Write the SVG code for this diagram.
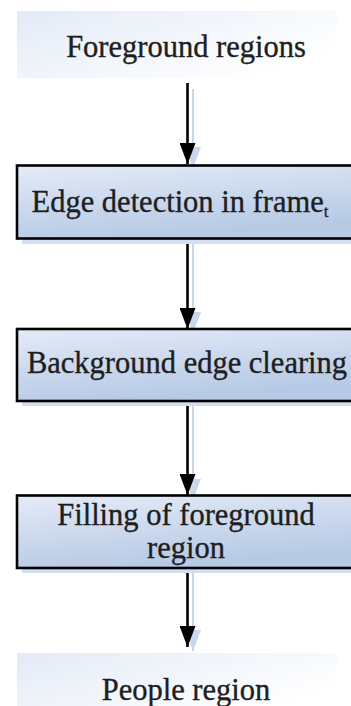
<svg xmlns="http://www.w3.org/2000/svg" width="351" height="706" viewBox="0 0 351 706">
  <defs>
    <linearGradient id="boxFill" x1="0" y1="0" x2="0.35" y2="1">
      <stop offset="0" stop-color="#e4ebf7"/>
      <stop offset="1" stop-color="#b6c9e5"/>
    </linearGradient>
    <linearGradient id="termFill" x1="0" y1="0" x2="1" y2="0.6">
      <stop offset="0" stop-color="#e3eaf6"/>
      <stop offset="0.6" stop-color="#f4f7fc"/>
      <stop offset="1" stop-color="#ffffff"/>
    </linearGradient>
    <!-- arrowheads drawn along +x so orient="auto" turns them to the line direction -->
    <marker id="head" markerWidth="21" markerHeight="16" refX="21" refY="8" orient="auto" markerUnits="userSpaceOnUse" viewBox="0 0 21 16">
      <path d="M0,0 L21,8 L0,16 Z" fill="#000"/>
    </marker>
    <marker id="headShadow" markerWidth="21" markerHeight="16" refX="21" refY="8" orient="auto" markerUnits="userSpaceOnUse" viewBox="0 0 21 16">
      <path d="M0,0 L21,8 L0,16 Z" fill="#c8d6ee"/>
    </marker>
  </defs>
  <style>
    .label { font-family: "Liberation Serif", "Times New Roman", "DejaVu Serif", serif; font-size: 30.5px; fill: #1e1e1e; stroke: #1e1e1e; stroke-width: 0.35px; text-anchor: middle; }
    .sub { font-size: 17px; }
    .box { fill: url(#boxFill); stroke: #000; stroke-width: 2.6; }
    .boxShadow { fill: #d3def0; }
    .term { fill: url(#termFill); }
    .wire { stroke: #000; stroke-width: 2.6; fill: none; marker-end: url(#head); }
    .wireShadow { stroke: #c8d6ee; stroke-width: 2; fill: none; marker-end: url(#headShadow); }
  </style>

  <rect width="351" height="706" fill="#ffffff"/>

  <!-- connectors -->
  <g id="connectors">
    <line class="wireShadow" x1="193" y1="89" x2="193" y2="168"/>
    <line class="wireShadow" x1="193" y1="244" x2="193" y2="333"/>
    <line class="wireShadow" x1="193" y1="406" x2="193" y2="500"/>
    <line class="wireShadow" x1="193" y1="573" x2="193" y2="651"/>
    <line class="wire" x1="187.5" y1="83" x2="187.5" y2="164"/>
    <line class="wire" x1="187.5" y1="239" x2="187.5" y2="329"/>
    <line class="wire" x1="187.5" y1="402" x2="187.5" y2="495"/>
    <line class="wire" x1="187.5" y1="568" x2="187.5" y2="647"/>
  </g>

  <!-- start terminal -->
  <g id="foreground-regions">
    <rect class="term" x="17" y="11" width="320" height="67"/>
    <text class="label" x="186" y="57">Foreground regions</text>
  </g>

  <!-- step 1 -->
  <g id="edge-detection">
    <rect class="boxShadow" x="22" y="171" width="340" height="73"/>
    <rect class="box" x="17" y="165.5" width="340" height="73"/>
    <text class="label" x="180" y="212">Edge detection in frame<tspan class="sub" dy="5">t</tspan></text>
  </g>

  <!-- step 2 -->
  <g id="background-edge-clearing">
    <rect class="boxShadow" x="22" y="334" width="340" height="72"/>
    <rect class="box" x="17" y="329" width="340" height="72"/>
    <text class="label" x="187" y="373">Background edge clearing</text>
  </g>

  <!-- step 3 -->
  <g id="filling-foreground">
    <rect class="boxShadow" x="22" y="501" width="340" height="72"/>
    <rect class="box" x="17" y="495.5" width="340" height="72.5"/>
    <text class="label" x="186" y="525">Filling of foreground</text>
    <text class="label" x="186" y="558">region</text>
  </g>

  <!-- end terminal -->
  <g id="people-region">
    <rect class="term" x="17" y="653" width="320" height="60"/>
    <text class="label" x="186" y="700">People region</text>
  </g>
</svg>
